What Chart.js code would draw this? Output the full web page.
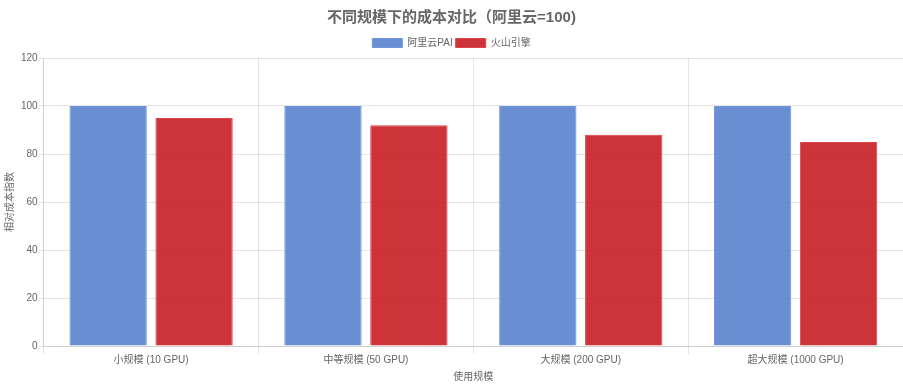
<!DOCTYPE html>
<html>
<head>
<meta charset="utf-8">
<script src="https://cdn.jsdelivr.net/npm/chart.js@4"></script>
<style>
  html, body { margin: 0; padding: 0; background: #fff; }
  #wrap { width: 903px; height: 386px; position: relative; }
</style>
</head>
<body>
<div id="wrap"><canvas id="c"></canvas></div>
<script>
const categories = ['小规模 (10 GPU)', '中等规模 (50 GPU)', '大规模 (200 GPU)', '超大规模 (1000 GPU)'];
const aliyun = [100, 100, 100, 100];
const volc = [95, 92, 88, 85];

const font = "'Liberation Sans', Arial, 'Noto Sans CJK SC', sans-serif";
Chart.defaults.font.family = font;
Chart.defaults.color = '#666';

new Chart(document.getElementById('c'), {
  type: 'bar',
  data: {
    labels: categories,
    datasets: [
      { label: '阿里云PAI', data: aliyun, backgroundColor: 'rgba(84,128,204,0.88)', borderColor: 'rgba(110,150,220,1)', borderWidth: 1 },
      { label: '火山引擎', data: volc, backgroundColor: 'rgba(200,30,35,0.9)', borderColor: 'rgba(220,70,70,1)', borderWidth: 1 }
    ]
  },
  options: {
    responsive: true,
    maintainAspectRatio: false,
    animation: false,
    plugins: {
      title: { display: true, text: '不同规模下的成本对比（阿里云=100)', color: '#666', font: { size: 15, weight: 'bold' }, padding: { top: 9, bottom: 8 } },
      legend: { labels: { color: '#666', font: { size: 10 }, boxWidth: 30, boxHeight: 9, padding: 3 } }
    },
    scales: {
      x: {
        title: { display: true, text: '使用规模', color: '#666', font: { size: 10 }, padding: { top: 5, bottom: 3 } },
        ticks: { color: '#666', font: { size: 10 }, padding: 0 }
      },
      y: {
        min: 0, max: 120,
        grid: { tickLength: 5 },
        ticks: { stepSize: 20, color: '#666', font: { size: 10 }, padding: 1 },
        title: { display: true, text: '相对成本指数', color: '#666', font: { size: 10 }, padding: 4 }
      }
    }
  }
});
</script>
</body>
</html>
